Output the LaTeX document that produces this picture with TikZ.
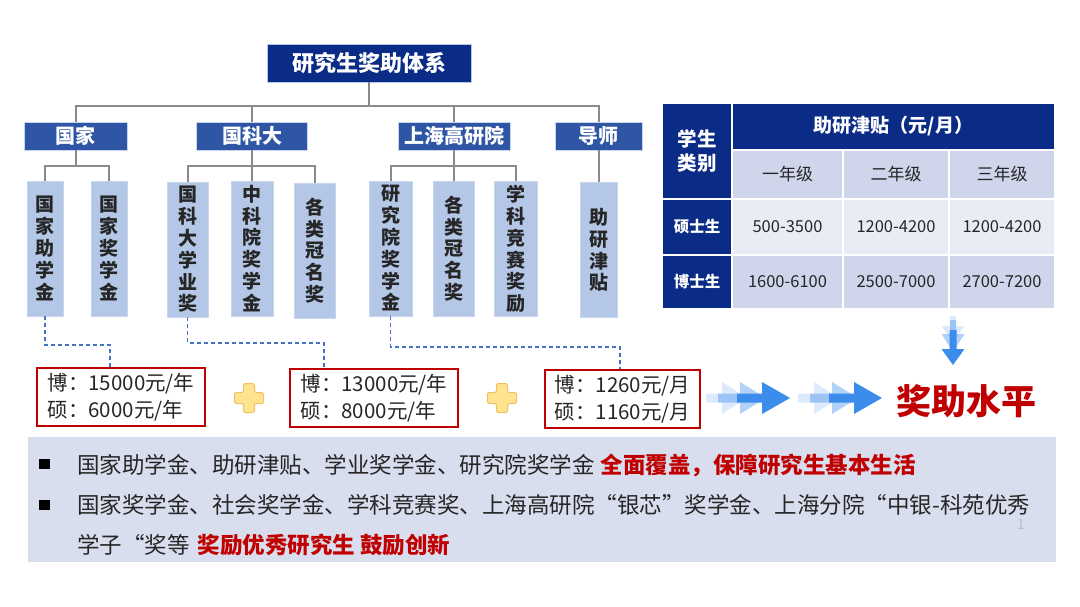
\documentclass[tikz,border=0pt]{standalone}
\usepackage{fontspec}
\setmainfont{Noto Sans CJK SC}
\usetikzlibrary{calc}
\definecolor{navy}{HTML}{0B2C86}
\definecolor{catblue}{HTML}{2F55A5}
\definecolor{leafblue}{HTML}{B4C7E7}
\definecolor{leafedge}{HTML}{C8D5EE}
\definecolor{conngray}{HTML}{8A8A8A}
\definecolor{dashblue}{HTML}{4472C4}
\definecolor{accred}{HTML}{C00000}
\definecolor{tlight}{HTML}{CFD5EA}
\definecolor{tlighter}{HTML}{E9EBF5}
\definecolor{panelc}{HTML}{D9DEEE}
\definecolor{darktext}{HTML}{262626}
\definecolor{arrblue}{HTML}{3C8DEB}
\definecolor{plusfill}{HTML}{FFE38F}
\definecolor{plusedge}{HTML}{F3BE63}
\newcommand{\myfs}[2]{\fontsize{#1pt}{#2pt}\selectfont}
\tikzset{
  topbox/.style={fill=navy, draw=leafblue, line width=0.6pt, text=white, font=\myfs{22}{26}\bfseries, minimum width=204pt, minimum height=38pt, inner sep=0pt},
  catbox/.style={fill=catblue, draw=leafedge, line width=0.5pt, text=white, font=\myfs{20}{24}\bfseries, minimum height=28pt, inner sep=0pt},
  leaf/.style={fill=leafblue, draw=leafedge, line width=0.6pt, text=darktext, font=\myfs{19}{21.8}\bfseries, minimum height=135pt, align=center, inner sep=0pt},
  conn/.style={draw=conngray, line width=2pt},
  dashconn/.style={draw=dashblue, line width=1.3pt, dash pattern=on 4pt off 3pt},
  redbox/.style={draw=accred, line width=1.5pt, minimum height=58pt, text=darktext, align=left, font=\myfs{20.5}{27}, inner sep=0pt},
  cell/.style={draw=white, line width=1.6pt, inner sep=0pt, text=darktext},
  hcell/.style={cell, fill=navy, text=white},
  plusshape/.style={fill=plusfill, draw=plusedge, line width=1pt, rounded corners=2pt},
  bodytext/.style={anchor=west, inner sep=0pt, text=darktext, font=\myfs{22.5}{26}},
}
\begin{document}
\begin{tikzpicture}[x=1pt,y=-1pt]
\useasboundingbox (0,0) rectangle (1080,607);

% ---------- tree ----------
\node[topbox] (top) at (369,63) {研究生奖助体系};
\node[catbox, minimum width=103pt] (c1) at (75.5,136) {国家};
\node[catbox, minimum width=111pt] (c2) at (252,136) {国科大};
\node[catbox, minimum width=112pt] (c3) at (454,136) {上海高研院};
\node[catbox, minimum width=87pt] (c4) at (598.5,136) {导师};

\node[leaf, minimum width=36pt] (l1) at (45,248.5) {国\\家\\助\\学\\金};
\node[leaf, minimum width=36pt] (l2) at (109,248.5) {国\\家\\奖\\学\\金};
\node[leaf, minimum width=41pt] (l3) at (187.5,249.5) {国\\科\\大\\学\\业\\奖};
\node[leaf, minimum width=42pt] (l4) at (252,248.5) {中\\科\\院\\奖\\学\\金};
\node[leaf, minimum width=41pt] (l5) at (314.5,250.5) {各\\类\\冠\\名\\奖};
\node[leaf, minimum width=43pt] (l6) at (390.5,248.5) {研\\究\\院\\奖\\学\\金};
\node[leaf, minimum width=41pt] (l7) at (454,248.5) {各\\类\\冠\\名\\奖};
\node[leaf, minimum width=43pt] (l8) at (515.5,249) {学\\科\\竞\\赛\\奖\\励};
\node[leaf, minimum width=37pt] (l9) at (598.5,250) {助\\研\\津\\贴};

\coordinate (bus) at (369,106);
\draw[conn] (top.south) -- (bus);
\draw[conn] (bus) -| (c1.north);
\draw[conn] (bus) -| (c2.north);
\draw[conn] (bus) -| (c3.north);
\draw[conn] (bus) -| (c4.north);

\coordinate (s1) at (75.5,166);
\draw[conn] (c1.south) -- (s1);
\draw[conn] (s1) -| (l1.north);
\draw[conn] (s1) -| (l2.north);

\coordinate (s2) at (252,166);
\draw[conn] (c2.south) -- (l4.north);
\draw[conn] (s2) -| (l3.north);
\draw[conn] (s2) -| (l5.north);

\coordinate (s3) at (454,166);
\draw[conn] (c3.south) -- (l7.north);
\draw[conn] (s3) -| (l6.north);
\draw[conn] (s3) -| (l8.north);

\draw[conn] (c4.south) -- (l9.north);

% ---------- amount boxes ----------
\node[redbox, minimum width=168pt] (r1) at (121,397) {博：15000元/年\\硕：6000元/年};
\node[redbox, minimum width=168pt] (r2) at (374,398) {博：13000元/年\\硕：8000元/年};
\node[redbox, minimum width=155pt] (r3) at (622.5,399) {博：1260元/月\\硕：1160元/月};

\coordinate (k1) at (110,345);
\draw[dashconn] (l1.south) |- (k1) -- (k1 |- r1.north);
\coordinate (k2) at (324,343);
\draw[dashconn] (l3.south) |- (k2) -- (k2 |- r2.north);
\coordinate (k3) at (620,347);
\draw[dashconn] (l6.south) |- (k3) -- (k3 |- r3.north);

% plus signs
\begin{scope}[shift={(249,398)}]
\draw[plusshape] (-5.5,-14.5) -- (5.5,-14.5) -- (5.5,-5.5) -- (14.5,-5.5) -- (14.5,5.5) -- (5.5,5.5) -- (5.5,14.5) -- (-5.5,14.5) -- (-5.5,5.5) -- (-14.5,5.5) -- (-14.5,-5.5) -- (-5.5,-5.5) -- cycle;
\end{scope}
\begin{scope}[shift={(502,398)}]
\draw[plusshape] (-5.5,-14.5) -- (5.5,-14.5) -- (5.5,-5.5) -- (14.5,-5.5) -- (14.5,5.5) -- (5.5,5.5) -- (5.5,14.5) -- (-5.5,14.5) -- (-5.5,5.5) -- (-14.5,5.5) -- (-14.5,-5.5) -- (-5.5,-5.5) -- cycle;
\end{scope}

% ---------- table ----------
\node[hcell, minimum width=70pt, minimum height=96pt, font=\myfs{19.5}{24}\bfseries, align=center] (h0) at (697,151) {学生\\类别};
\node[hcell, minimum width=323pt, minimum height=47pt, font=\myfs{19}{23}\bfseries] (h1) at (893.5,126.5) {助研津贴（元/月）};
\node[cell, fill=tlight, minimum width=111pt, minimum height=49pt, font=\myfs{17}{20}] (g1) at (787.5,174.5) {一年级};
\node[cell, fill=tlight, minimum width=106pt, minimum height=49pt, font=\myfs{17}{20}] (g2) at (896,174.5) {二年级};
\node[cell, fill=tlight, minimum width=106pt, minimum height=49pt, font=\myfs{17}{20}] (g3) at (1002,174.5) {三年级};
\node[hcell, minimum width=70pt, minimum height=56pt, font=\myfs{15.5}{19}\bfseries] (m0) at (697,227) {硕士生};
\node[cell, fill=tlighter, minimum width=111pt, minimum height=56pt, font=\myfs{16.5}{20}] (m1) at (787.5,227) {500-3500};
\node[cell, fill=tlighter, minimum width=106pt, minimum height=56pt, font=\myfs{16.5}{20}] (m2) at (896,227) {1200-4200};
\node[cell, fill=tlighter, minimum width=106pt, minimum height=56pt, font=\myfs{16.5}{20}] (m3) at (1002,227) {1200-4200};
\node[hcell, minimum width=70pt, minimum height=54pt, font=\myfs{15.5}{19}\bfseries] (d0) at (697,282) {博士生};
\node[cell, fill=tlight, minimum width=111pt, minimum height=54pt, font=\myfs{16.5}{20}] (d1) at (787.5,282) {1600-6100};
\node[cell, fill=tlight, minimum width=106pt, minimum height=54pt, font=\myfs{16.5}{20}] (d2) at (896,282) {2500-7000};
\node[cell, fill=tlight, minimum width=106pt, minimum height=54pt, font=\myfs{16.5}{20}] (d3) at (1002,282) {2700-7200};

% ---------- arrows ----------
% down arrow
\fill[arrblue, opacity=0.18] (950,316) -- (956,316) -- (956,326) -- (964.5,326) -- (953,342) -- (941.5,326) -- (950,326) -- cycle;
\fill[arrblue, opacity=0.4] (950,320) -- (956,320) -- (956,334) -- (964.5,334) -- (953,352) -- (941.5,334) -- (950,334) -- cycle;
\fill[arrblue] (949.5,330) -- (956.5,330) -- (956.5,349) -- (964.5,349) -- (953,365) -- (941.5,349) -- (949.5,349) -- cycle;
% right arrows, group 1
\fill[arrblue, opacity=0.18] (706,393.5) -- (722,393.5) -- (722,382) -- (747,398) -- (722,414) -- (722,402.5) -- (706,402.5) -- cycle;
\fill[arrblue, opacity=0.4] (718,393.5) -- (740,393.5) -- (740,382) -- (766,398) -- (740,414) -- (740,402.5) -- (718,402.5) -- cycle;
\fill[arrblue] (737,393.5) -- (762,393.5) -- (762,382) -- (790,398) -- (762,414) -- (762,402.5) -- (737,402.5) -- cycle;
% right arrows, group 2
\fill[arrblue, opacity=0.18] (798,393.5) -- (814,393.5) -- (814,382) -- (839,398) -- (814,414) -- (814,402.5) -- (798,402.5) -- cycle;
\fill[arrblue, opacity=0.4] (810,393.5) -- (832,393.5) -- (832,382) -- (858,398) -- (832,414) -- (832,402.5) -- (810,402.5) -- cycle;
\fill[arrblue] (829,393.5) -- (854,393.5) -- (854,382) -- (882,398) -- (854,414) -- (854,402.5) -- (829,402.5) -- cycle;

\node[text=accred, font=\myfs{35}{40}\bfseries, inner sep=0pt] (lvl) at (966,401) {奖助水平};

% ---------- bottom panel ----------
\node[fill=panelc, minimum width=1028pt, minimum height=125pt, inner sep=0pt] (pan) at (542,499.5) {};
\node[fill=black, minimum width=11pt, minimum height=10pt, inner sep=0pt] (bu1) at (44,463.5) {};
\node[fill=black, minimum width=11pt, minimum height=10pt, inner sep=0pt] (bu2) at (44,505) {};
\node[bodytext] (t1) at (77,465) {国家助学金、助研津贴、学业奖学金、研究院奖学金\hspace{6pt}\textcolor{accred}{\bfseries 全面覆盖，保障研究生基本生活}};
\node[bodytext] (t2) at (77,505) {国家奖学金、社会奖学金、学科竞赛奖、上海高研院“银芯”奖学金、上海分院“中银-科苑优秀};
\node[bodytext] (t3) at (77,545) {学子“奖等\hspace{8pt}\textcolor{accred}{\bfseries 奖励优秀研究生 鼓励创新}};
\node[text=gray!50, font=\myfs{14}{16}, inner sep=0pt] (pg) at (1021,525) {1};
\end{tikzpicture}
\end{document}
